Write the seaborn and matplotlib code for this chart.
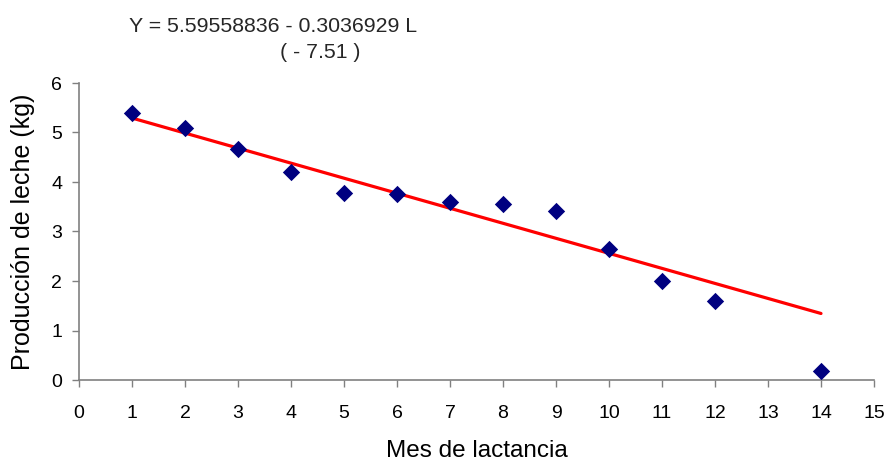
import numpy as np
import pandas as pd
import matplotlib
matplotlib.use("Agg")
import matplotlib.pyplot as plt
import seaborn as sns

# Monthly milk production
mes = [1, 2, 3, 4, 5, 6, 7, 8, 9, 10, 11, 12, 14]
leche = [5.40, 5.10, 4.66, 4.20, 3.78, 3.76, 3.59, 3.56, 3.42, 2.65, 2.00, 1.60, 0.19]

# Fitted regression from the equation in the title
intercepto = 5.59558836
pendiente = -0.3036929
rango_ajuste = [1, 14]

x_ticks = list(range(0, 16))
y_ticks = list(range(0, 7))

sns.set_style("white")
plt.rcParams["font.family"] = ["Liberation Sans", "DejaVu Sans"]

df = pd.DataFrame({"mes": mes, "leche": leche})
fit = pd.DataFrame({"mes": rango_ajuste})
fit["leche"] = intercepto + pendiente * fit["mes"]

fig = plt.figure(figsize=(8.85, 4.61), dpi=100)
ax = fig.add_axes([79 / 885, 81 / 461, 795 / 885, 297 / 461])

sns.lineplot(data=fit, x="mes", y="leche", color="#ff0000", linewidth=2.3, ax=ax, zorder=2)
sns.scatterplot(data=df, x="mes", y="leche", marker="D", s=78, color="#000080",
                edgecolor="#000080", linewidth=0, ax=ax, zorder=3)

ax.set_xlim(0, 15)
ax.set_ylim(0, 6)
ax.set_xticks(x_ticks)
ax.set_yticks(y_ticks)
ax.tick_params(axis="both", direction="out", length=5, width=1, color="#808080",
               labelsize=14, labelcolor="black", left=True, bottom=True)
ax.tick_params(axis="x", pad=13)
ax.tick_params(axis="y", pad=7)
for side in ["top", "right"]:
    ax.spines[side].set_visible(False)
for side in ["left", "bottom"]:
    ax.spines[side].set_color("#808080")
    ax.spines[side].set_linewidth(1.2)

ax.set_xlabel("Mes de lactancia", fontsize=17.5, labelpad=13, color="black")
ax.set_ylabel("Producción de leche (kg)", fontsize=18, labelpad=12, color="black")

fig.text(273 / 885, 1 - 27 / 461, "Y = 5.59558836 - 0.3036929 L", ha="center", va="center", fontsize=15.3)
fig.text(320 / 885, 1 - 53 / 461, "( - 7.51 )", ha="center", va="center", fontsize=15.3)

fig.savefig("out.png", dpi=100)
